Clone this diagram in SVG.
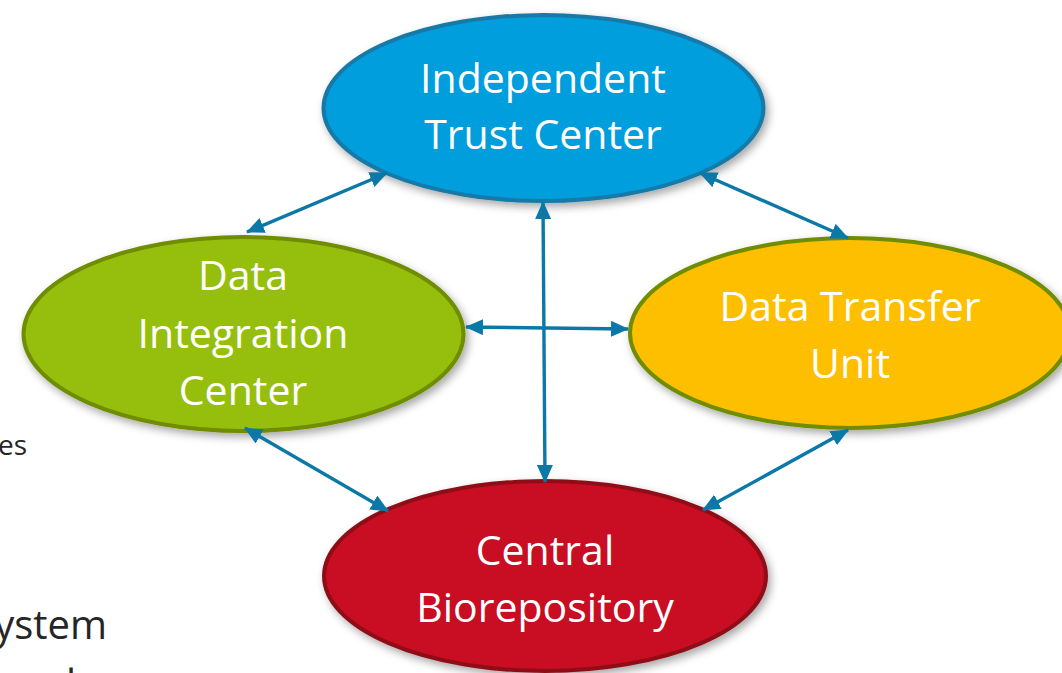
<svg xmlns="http://www.w3.org/2000/svg" width="1062" height="673" viewBox="0 0 1062 673">
<style>
.lbl{font-family:"Open Sans","Noto Sans","Liberation Sans",sans-serif;font-size:41px;fill:#ffffff;text-anchor:middle}
.side{font-family:"Open Sans","Noto Sans","Liberation Sans",sans-serif;fill:#262626}
.node{stroke-width:4;filter:url(#sh)}
.conn{stroke:#0b78a8;stroke-width:3.4;fill:none;marker-start:url(#ah);marker-end:url(#ah)}
</style>
<defs>
<filter id="sh" x="-10%" y="-10%" width="125%" height="130%">
<feDropShadow dx="3" dy="4" stdDeviation="4" flood-color="#000" flood-opacity="0.35"/>
</filter>
<marker id="ah" markerUnits="userSpaceOnUse" markerWidth="18" markerHeight="16" refX="17" refY="8" orient="auto-start-reverse">
<path d="M0,0 L18,8 L0,16 Z" fill="#0b78a8"/>
</marker>
</defs>
<rect width="1062" height="673" fill="#ffffff"/>
<text class="side" x="27" y="455" font-size="28" text-anchor="end">es</text>
<text class="side" x="107" y="639" font-size="40" text-anchor="end">ystem</text>
<text class="side" x="66" y="698" font-size="40">l</text>
<g id="node-trust">
<ellipse class="node" cx="543.5" cy="108" rx="220" ry="93" fill="#009edd" stroke="#1679a8"/>
<text class="lbl" x="543" y="93">Independent</text>
<text class="lbl" x="543" y="149">Trust Center</text>
</g>
<g id="node-dic">
<ellipse class="node" cx="243.5" cy="334" rx="220" ry="97" fill="#96bf0d" stroke="#6f8d00"/>
<text class="lbl" x="243" y="290">Data</text>
<text class="lbl" x="243" y="348">Integration</text>
<text class="lbl" x="243" y="405">Center</text>
</g>
<g id="node-dtu">
<ellipse class="node" cx="850" cy="333" rx="220" ry="95" fill="#fdbf00" stroke="#6f8d00"/>
<text class="lbl" x="850" y="321">Data Transfer</text>
<text class="lbl" x="850" y="378">Unit</text>
</g>
<g id="node-bio">
<ellipse class="node" cx="545" cy="576" rx="221" ry="95" fill="#c90a22" stroke="#8e0a18"/>
<text class="lbl" x="545" y="565">Central</text>
<text class="lbl" x="545" y="622">Biorepository</text>
</g>
<g id="connectors">
<line class="conn" x1="247" y1="232" x2="387" y2="173"/>
<line class="conn" x1="700" y1="173" x2="848" y2="238"/>
<line class="conn" x1="466" y1="327" x2="628" y2="329"/>
<line class="conn" x1="543" y1="202" x2="545" y2="482"/>
<line class="conn" x1="245" y1="428" x2="388" y2="511"/>
<line class="conn" x1="848" y1="430" x2="703" y2="510"/>
</g>
</svg>
